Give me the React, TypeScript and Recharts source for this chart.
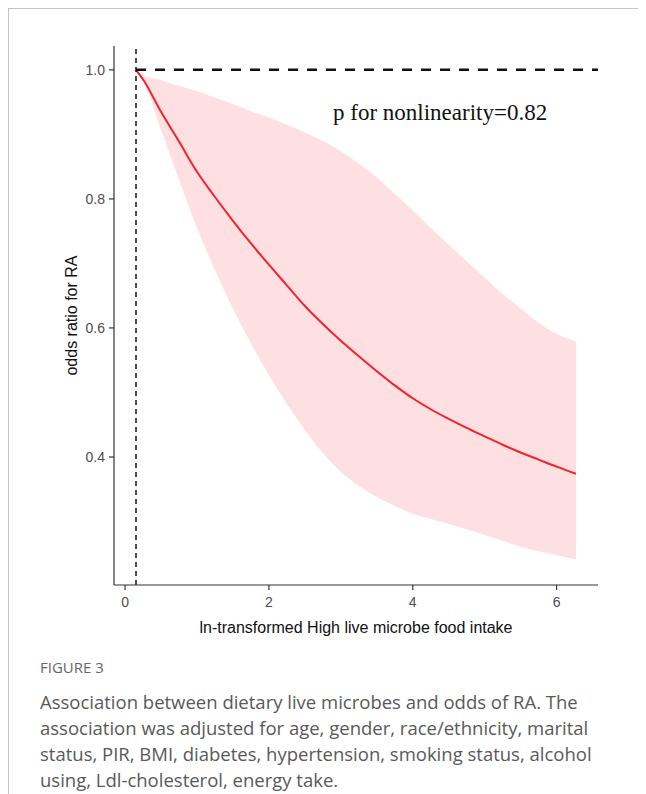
import {
  Area,
  ComposedChart,
  Label,
  Line,
  ReferenceLine,
  XAxis,
  YAxis,
} from "recharts";

// ln-transformed intake (x) and estimated odds ratio with 95% CI
const intake = [
  0.15, 0.25, 0.5, 0.75, 1.0, 1.25, 1.5, 1.75, 2.0, 2.25, 2.5, 2.75, 3.0, 3.25,
  3.5, 3.75, 4.0, 4.25, 4.5, 4.75, 5.0, 5.25, 5.5, 5.75, 6.0, 6.27,
];
const oddsRatio = [
  1.0, 0.985, 0.935, 0.889, 0.842, 0.803, 0.766, 0.731, 0.698, 0.666, 0.634,
  0.606, 0.58, 0.556, 0.533, 0.511, 0.491, 0.474, 0.459, 0.445, 0.432, 0.419,
  0.407, 0.396, 0.385, 0.374,
];
const upperCI = [
  1.0, 0.992, 0.984, 0.975, 0.967, 0.957, 0.947, 0.936, 0.926, 0.915, 0.903,
  0.89, 0.874, 0.855, 0.833, 0.808, 0.782, 0.755, 0.729, 0.703, 0.678, 0.653,
  0.63, 0.608, 0.591, 0.579,
];
const lowerCI = [
  1.0, 0.984, 0.907, 0.83, 0.755, 0.69, 0.63, 0.576, 0.527, 0.482, 0.442, 0.406,
  0.377, 0.355, 0.338, 0.324, 0.312, 0.304, 0.296, 0.288, 0.279, 0.27, 0.261,
  0.254, 0.248, 0.241,
];
const xTicks = [0, 2, 4, 6];
const yTicks = [0.4, 0.6, 0.8, 1.0];
const refX = 0.152;

const data = intake.map((x, i) => ({
  x,
  or: oddsRatio[i],
  ci: [lowerCI[i], upperCI[i]],
}));

const captionLines = [
  "Association between dietary live microbes and odds of RA. The",
  "association was adjusted for age, gender, race/ethnicity, marital",
  "status, PIR, BMI, diabetes, hypertension, smoking status, alcohol",
  "using, Ldl-cholesterol, energy take.",
];

const tickStyle = {
  fill: "#4d4d4d",
  fontSize: 14,
  fontFamily: "'Liberation Sans', Arial, sans-serif",
};

export default function App() {
  return (
    <div
      style={{
        position: "relative",
        width: 638,
        height: 786,
        boxSizing: "border-box",
        borderTop: "1px solid #c4c4c4",
        borderLeft: "1px solid #c4c4c4",
        background: "#fff",
      }}
    >
      <div style={{ position: "absolute", left: 0, top: 0 }}>
        <ComposedChart
          width={600}
          height={640}
          data={data}
          margin={{ top: 37, right: 11, left: 0, bottom: 0 }}
        >
          <XAxis
            type="number"
            dataKey="x"
            domain={[-0.154, 6.576]}
            allowDataOverflow
            ticks={xTicks}
            height={64}
            stroke="#333"
            strokeWidth={1.2}
            tickSize={5}
            tickMargin={7}
            tick={tickStyle}
          >
            <Label
              value="ln-transformed High live microbe food intake"
              position="insideBottom"
              offset={16}
              fill="#111"
              fontSize={16}
              fontFamily="'Liberation Sans', Arial, sans-serif"
            />
          </XAxis>
          <YAxis
            type="number"
            domain={[0.2016, 1.037]}
            allowDataOverflow
            ticks={yTicks}
            width={105}
            stroke="#333"
            strokeWidth={1.2}
            tickSize={5}
            tickMargin={4}
            tick={tickStyle}
            tickFormatter={(v: number) => v.toFixed(1)}
          >
            <Label
              value="odds ratio for RA"
              position="center"
              angle={-90}
              dx={10}
              fill="#111"
              fontSize={16}
              fontFamily="'Liberation Sans', Arial, sans-serif"
            />
          </YAxis>
          <Area
            type="monotone"
            dataKey="ci"
            stroke="none"
            fill="#ffe0e2"
            fillOpacity={1}
            isAnimationActive={false}
          />
          <Line
            type="monotone"
            dataKey="or"
            stroke="#f5222b"
            strokeWidth={2}
            dot={false}
            isAnimationActive={false}
          />
          <ReferenceLine
            x={refX}
            stroke="#111"
            strokeWidth={1.5}
            strokeDasharray="5 4"
          />
          <ReferenceLine
            segment={[
              { x: refX, y: 1 },
              { x: 6.576, y: 1 },
            ]}
            stroke="#111"
            strokeWidth={2.5}
            strokeDasharray="10 9"
          />
        </ComposedChart>
      </div>
      <div
        style={{
          position: "absolute",
          left: 324,
          top: 91,
          fontFamily: "'Liberation Serif', 'Times New Roman', serif",
          fontSize: 23,
          lineHeight: "26px",
          color: "#111",
          whiteSpace: "nowrap",
        }}
      >
        p for nonlinearity=0.82
      </div>
      <div
        style={{
          position: "absolute",
          left: 31,
          top: 648,
          fontFamily: "'Open Sans', sans-serif",
          fontSize: 15,
          lineHeight: "20px",
          color: "#666",
        }}
      >
        FIGURE 3
      </div>
      <div
        style={{
          position: "absolute",
          left: 31,
          top: 680,
          fontFamily: "'Open Sans', sans-serif",
          fontSize: 18.5,
          lineHeight: "26px",
          color: "#595959",
          whiteSpace: "nowrap",
        }}
      >
        {captionLines.map((line) => (
          <div key={line}>{line}</div>
        ))}
      </div>
    </div>
  );
}
